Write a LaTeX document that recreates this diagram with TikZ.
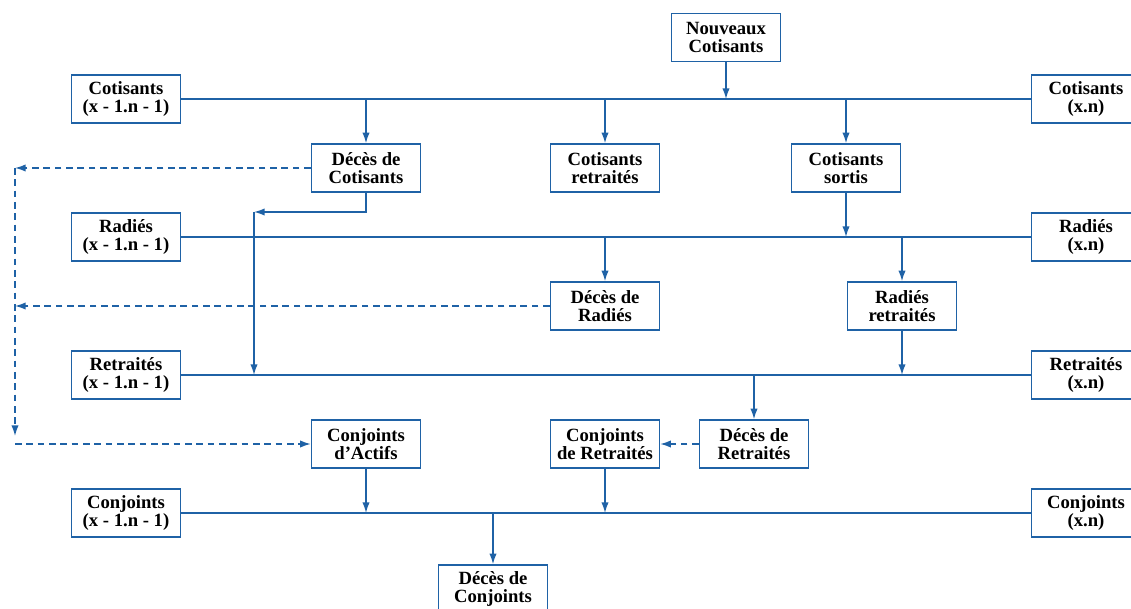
\documentclass[tikz,border=0pt]{standalone}
\usepackage{fontspec}
\setmainfont{Liberation Serif}
\usetikzlibrary{arrows.meta}
\definecolor{lineblue}{HTML}{1F62A6}
\begin{document}
\begin{tikzpicture}[x=0.75pt,y=-0.75pt,
  box/.style={draw=lineblue, line width=1.1pt, minimum width=81.75pt, minimum height=36pt,
    inner sep=0pt, align=center, font=\bfseries\fontsize{14}{13.6}\selectfont, fill=white},
  flow/.style={draw=lineblue, line width=1.1pt, -{Latex[length=8pt,width=5.5pt]}},
  dflow/.style={flow, dash pattern=on 5pt off 3.5pt},
  bar/.style={draw=lineblue, line width=1.1pt}]
\useasboundingbox (0,0) rectangle (1131,609);
% stock boxes
\node[box] (nc) at (726,37.5) {Nouveaux\\Cotisants};
\node[box] (c0) at (126,99) {Cotisants\\(x - 1.n - 1)};
\node[box] (c1) at (1086,99) {Cotisants\\(x.n)};
\node[box] (r0) at (126,237) {Radiés\\(x - 1.n - 1)};
\node[box] (r1) at (1086,237) {Radiés\\(x.n)};
\node[box] (t0) at (126,375) {Retraités\\(x - 1.n - 1)};
\node[box] (t1) at (1086,375) {Retraités\\(x.n)};
\node[box] (j0) at (126,513) {Conjoints\\(x - 1.n - 1)};
\node[box] (j1) at (1086,513) {Conjoints\\(x.n)};
% flow boxes
\node[box] (dc) at (366,168) {Décès de\\Cotisants};
\node[box] (cr) at (605,168) {Cotisants\\retraités};
\node[box] (cs) at (846,168) {Cotisants\\sortis};
\node[box] (dr) at (605,306) {Décès de\\Radiés};
\node[box] (rr) at (902,306) {Radiés\\retraités};
\node[box] (ca) at (366,444) {Conjoints\\d’Actifs};
\node[box] (jr) at (605,444) {Conjoints\\de Retraités};
\node[box] (dt) at (754,444) {Décès de\\Retraités};
\node[box] (dj) at (493,589) {Décès de\\Conjoints};
% horizontal bars
\draw[bar] (c0.east) -- (c1.west);
\draw[bar] (r0.east) -- (r1.west);
\draw[bar] (t0.east) -- (t1.west);
\draw[bar] (j0.east) -- (j1.west);
% cotisants level
\draw[flow] (nc.south) -- (nc.south |- c0.east);
\draw[flow] (dc.north |- c0.east) -- (dc.north);
\draw[flow] (cr.north |- c0.east) -- (cr.north);
\draw[flow] (cs.north |- c0.east) -- (cs.north);
% deces de cotisants to retraites
\coordinate (kink) at (254,212);
\draw[flow] (dc.south) |- (kink);
\draw[flow] (kink) -- (kink |- t0.east);
% radies level
\draw[flow] (cs.south) -- (cs.south |- r0.east);
\draw[flow] (dr.north |- r0.east) -- (dr.north);
\draw[flow] (rr.north |- r0.east) -- (rr.north);
\draw[flow] (rr.south) -- (rr.south |- t0.east);
% retraites level
\draw[flow] (dt.north |- t0.east) -- (dt.north);
\draw[dflow] (dt.west) -- (jr.east);
% conjoints level
\draw[flow] (ca.south) -- (ca.south |- j0.east);
\draw[flow] (jr.south) -- (jr.south |- j0.east);
\draw[flow] (dj.north |- j0.east) -- (dj.north);
% dashed deaths to conjoints
\coordinate (lt) at (15,168);
\coordinate (lb) at (15,436);
\coordinate (lc) at (15,444);
\draw[dflow] (dc.west) -- (lt);
\draw[dflow] (dr.west) -- (dr.west -| lt);
\draw[dflow] (lt) -- (lb);
\draw[dflow] (lc) -- (ca.west);
\end{tikzpicture}
\end{document}
